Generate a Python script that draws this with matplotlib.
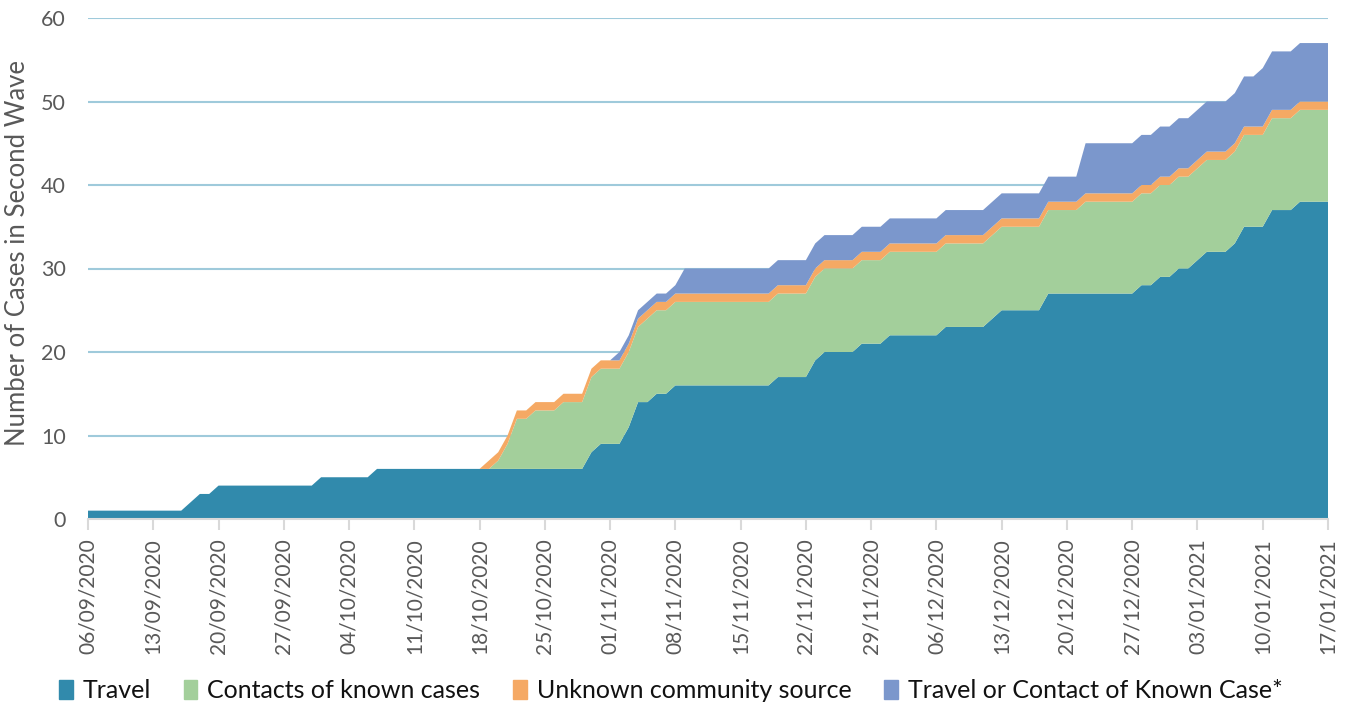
import matplotlib
matplotlib.use("Agg")
import matplotlib.pyplot as plt
import matplotlib.patches as mpatches
import numpy as np
import pandas as pd

plt.rcParams['font.family'] = ['Lato', 'DejaVu Sans']

# daily cumulative counts, 06/09/2020 .. 17/01/2021
dates = pd.date_range("2020-09-06", "2021-01-17", freq="D")

travel = [
    1, 1, 1, 1, 1, 1, 1, 1, 1, 1, 1, 2, 3, 3, 4, 4, 4, 4, 4, 4,
    4, 4, 4, 4, 4, 5, 5, 5, 5, 5, 5, 6, 6, 6, 6, 6, 6, 6, 6, 6,
    6, 6, 6, 6, 6, 6, 6, 6, 6, 6, 6, 6, 6, 6, 8, 9, 9, 9, 11, 14,
    14, 15, 15, 16, 16, 16, 16, 16, 16, 16, 16, 16, 16, 16, 17, 17, 17, 17, 19, 20,
    20, 20, 20, 21, 21, 21, 22, 22, 22, 22, 22, 22, 23, 23, 23, 23, 23, 24, 25, 25,
    25, 25, 25, 27, 27, 27, 27, 27, 27, 27, 27, 27, 27, 28, 28, 29, 29, 30, 30, 31,
    32, 32, 32, 33, 35, 35, 35, 37, 37, 37, 38, 38, 38, 38,
]
contacts = [
    0, 0, 0, 0, 0, 0, 0, 0, 0, 0, 0, 0, 0, 0, 0, 0, 0, 0, 0, 0,
    0, 0, 0, 0, 0, 0, 0, 0, 0, 0, 0, 0, 0, 0, 0, 0, 0, 0, 0, 0,
    0, 0, 0, 0, 1, 3, 6, 6, 7, 7, 7, 8, 8, 8, 9, 9, 9, 9, 9, 9,
    10, 10, 10, 10, 10, 10, 10, 10, 10, 10, 10, 10, 10, 10, 10, 10, 10, 10, 10, 10,
    10, 10, 10, 10, 10, 10, 10, 10, 10, 10, 10, 10, 10, 10, 10, 10, 10, 10, 10, 10,
    10, 10, 10, 10, 10, 10, 10, 11, 11, 11, 11, 11, 11, 11, 11, 11, 11, 11, 11, 11,
    11, 11, 11, 11, 11, 11, 11, 11, 11, 11, 11, 11, 11, 11,
]
unknown = [
    0, 0, 0, 0, 0, 0, 0, 0, 0, 0, 0, 0, 0, 0, 0, 0, 0, 0, 0, 0,
    0, 0, 0, 0, 0, 0, 0, 0, 0, 0, 0, 0, 0, 0, 0, 0, 0, 0, 0, 0,
    0, 0, 0, 1, 1, 1, 1, 1, 1, 1, 1, 1, 1, 1, 1, 1, 1, 1, 1, 1,
    1, 1, 1, 1, 1, 1, 1, 1, 1, 1, 1, 1, 1, 1, 1, 1, 1, 1, 1, 1,
    1, 1, 1, 1, 1, 1, 1, 1, 1, 1, 1, 1, 1, 1, 1, 1, 1, 1, 1, 1,
    1, 1, 1, 1, 1, 1, 1, 1, 1, 1, 1, 1, 1, 1, 1, 1, 1, 1, 1, 1,
    1, 1, 1, 1, 1, 1, 1, 1, 1, 1, 1, 1, 1, 1,
]
travel_or_contact = [
    0, 0, 0, 0, 0, 0, 0, 0, 0, 0, 0, 0, 0, 0, 0, 0, 0, 0, 0, 0,
    0, 0, 0, 0, 0, 0, 0, 0, 0, 0, 0, 0, 0, 0, 0, 0, 0, 0, 0, 0,
    0, 0, 0, 0, 0, 0, 0, 0, 0, 0, 0, 0, 0, 0, 0, 0, 0, 1, 1, 1,
    1, 1, 1, 1, 3, 3, 3, 3, 3, 3, 3, 3, 3, 3, 3, 3, 3, 3, 3, 3,
    3, 3, 3, 3, 3, 3, 3, 3, 3, 3, 3, 3, 3, 3, 3, 3, 3, 3, 3, 3,
    3, 3, 3, 3, 3, 3, 3, 6, 6, 6, 6, 6, 6, 6, 6, 6, 6, 6, 6, 6,
    6, 6, 6, 6, 6, 6, 7, 7, 7, 7, 7, 7, 7, 7,
]

series_names = ["Travel", "Contacts of known cases", "Unknown community source",
                "Travel or Contact of Known Case*"]
colors = ["#318aac", "#a3cf9b", "#f5a964", "#7b97cc"]

fig = plt.figure(figsize=(13.47, 7.07), dpi=100)
ax = fig.add_axes([88 / 1347, 1 - 519 / 707, 1240 / 1347, 501 / 707])

ax.stackplot(dates, travel, contacts, unknown, travel_or_contact,
             colors=colors, linewidth=0, zorder=3)

ax.set_xlim(dates[0], dates[-1])
ax.set_ylim(0, 60)
ax.set_yticks(np.arange(0, 61, 10))
ax.grid(axis='y', color='#9fcadb', linewidth=1.5, zorder=1)
ax.set_axisbelow(True)

ticks = dates[::7]
ax.set_xticks(ticks)
ax.set_xticklabels([d.strftime("%d/%m/%Y") for d in ticks], rotation=90)

for s in ['top', 'right', 'left']:
    ax.spines[s].set_visible(False)
ax.spines['bottom'].set_color('#d9d9d9')
ax.spines['bottom'].set_linewidth(1.5)
ax.spines['bottom'].set_zorder(4)

ax.tick_params(axis='x', length=8, width=1.5, color='#d9d9d9', pad=6,
               labelsize=15, labelcolor='#595959')
ax.tick_params(axis='y', length=0, pad=16, labelsize=15.5, labelcolor='#595959')

ax.set_ylabel("Number of Cases in Second Wave", fontsize=18.5, color='#595959')
ax.yaxis.set_label_coords(-0.047, 0.53)

handles = [mpatches.Rectangle((0, 0), 1, 1, color=c) for c in colors]
fig.legend(handles, series_names, loc='center', bbox_to_anchor=(0.498, 0.023),
           ncol=4, frameon=False, fontsize=18, handlelength=0.55,
           handleheight=0.75, handletextpad=0.4, columnspacing=1.3,
           labelcolor='#111111')

fig.savefig("out.png", dpi=100)
